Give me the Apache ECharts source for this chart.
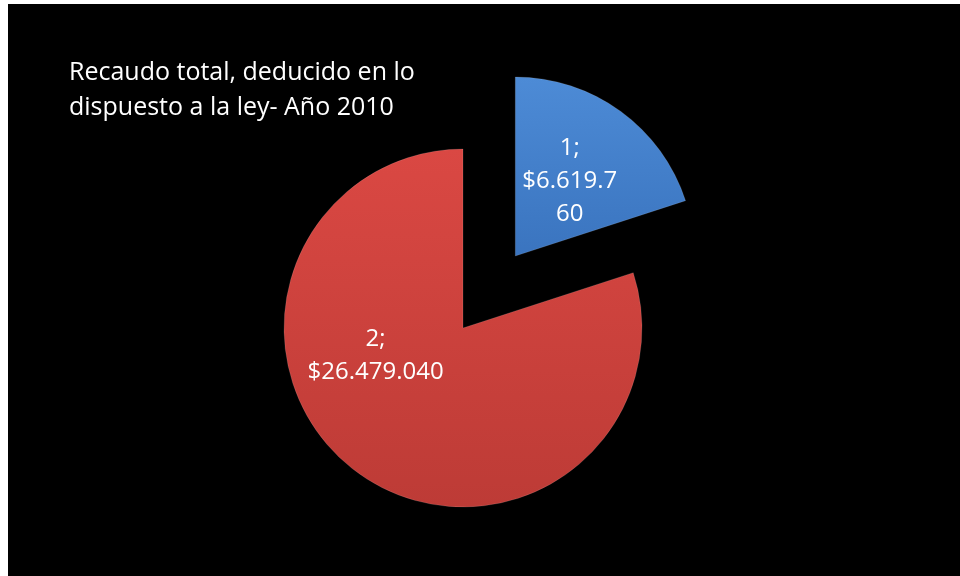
<!DOCTYPE html>
<html>
<head>
<meta charset="utf-8">
<script src="https://cdn.jsdelivr.net/npm/echarts@6/dist/echarts.min.js"></script>
<style>
  html, body { margin: 0; padding: 0; background: #ffffff; width: 960px; height: 576px; overflow: hidden; }
  #chart { position: absolute; left: 8px; top: 4px; width: 952px; height: 572px; }
</style>
</head>
<body>
<div id="chart"></div>
<script>
const titleText = 'Recaudo total, deducido en lo\ndispuesto a la ley- Año 2010';
const categories = ['1', '2'];
const values = [6619760, 26479040];

function fmt(v) {
  return '$' + String(v).replace(/\B(?=(\d{3})+(?!\d))/g, '.');
}

const styles = [
  {
    color: { type: 'linear', x: 0, y: 0, x2: 0, y2: 1, colorStops: [
      { offset: 0, color: '#4d8bd6' }, { offset: 1, color: '#3a74bf' } ] },
    labelOffset: [8, -2], width: 102
  },
  {
    color: { type: 'linear', x: 0, y: 0, x2: 0, y2: 1, colorStops: [
      { offset: 0, color: '#da4843' }, { offset: 1, color: '#bd3b36' } ] },
    labelOffset: [-33, -47], width: 220
  }
];

const chart = echarts.init(document.getElementById('chart'));
chart.setOption({
  backgroundColor: '#000000',
  animation: false,
  title: {
    text: titleText,
    left: 56, top: 46,
    textStyle: { color: '#ffffff', fontFamily: 'Open Sans', fontSize: 25, fontWeight: 'normal', lineHeight: 35 }
  },
  series: [{
    type: 'pie',
    center: [455, 324],
    radius: 179,
    startAngle: 90,
    clockwise: true,
    selectedMode: 'single',
    selectedOffset: 89,
    emphasis: { disabled: true },
    labelLine: { show: false },
    data: categories.map((c, i) => ({
      name: c,
      value: values[i],
      selected: i === 0,
      itemStyle: { color: styles[i].color, borderColor: 'rgba(255,255,255,0.12)', borderWidth: 1 },
      label: {
        show: true,
        position: 'inside',
        offset: styles[i].labelOffset,
        width: styles[i].width,
        overflow: 'breakAll',
        color: '#ffffff',
        fontFamily: 'Open Sans',
        fontSize: 24,
        lineHeight: 33,
        align: 'center',
        formatter: p => p.name + ';\n' + fmt(p.value)
      }
    }))
  }]
});
</script>
</body>
</html>
